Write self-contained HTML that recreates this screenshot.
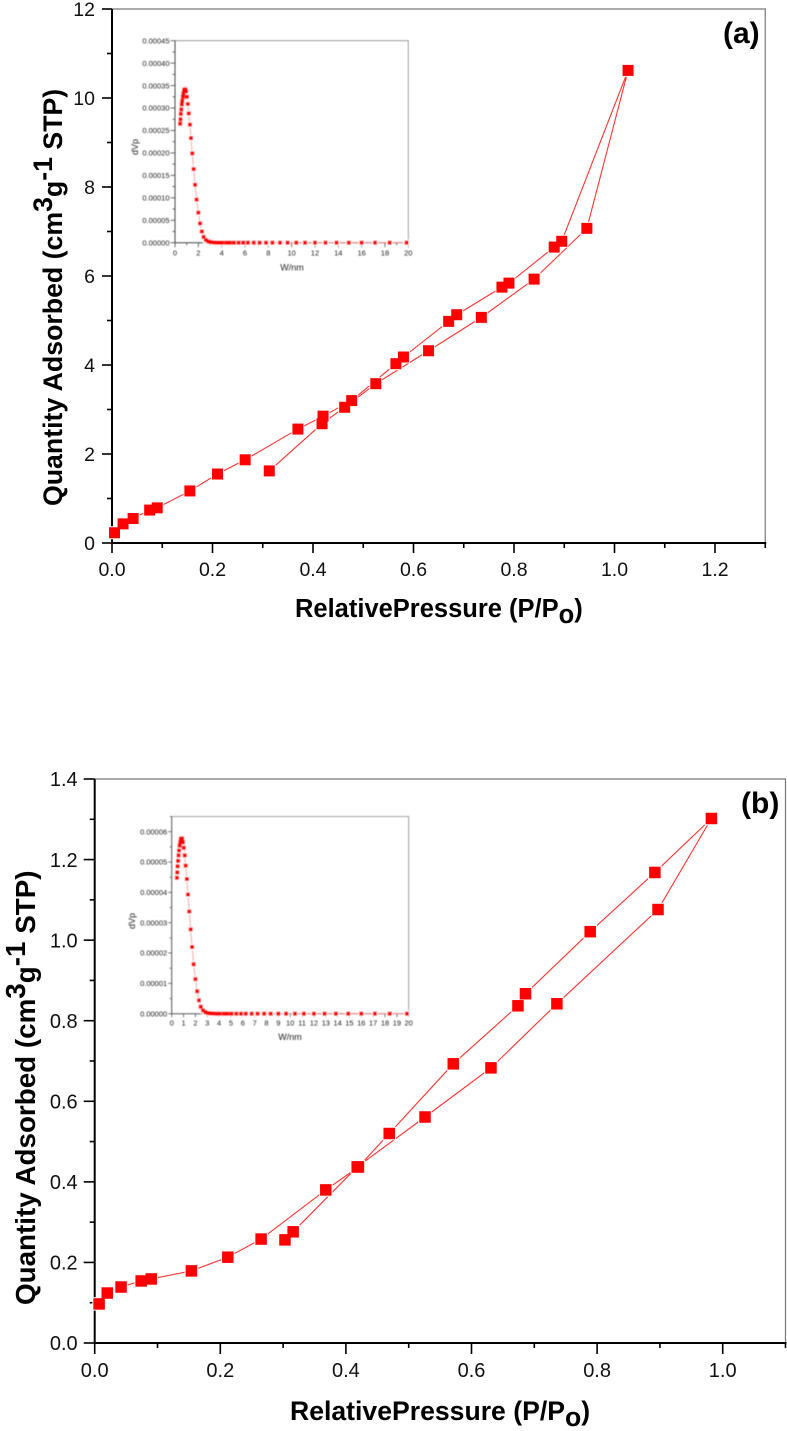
<!DOCTYPE html>
<html>
<head>
<meta charset="utf-8">
<title>Nitrogen adsorption isotherms</title>
<style>
html,body{margin:0;padding:0;background:#fff;}
svg{display:block;font-family:"Liberation Sans",Arial,sans-serif;}
</style>
</head>
<body>
<svg id="chart" width="787" height="1431" viewBox="0 0 787 1431" xmlns="http://www.w3.org/2000/svg">
<defs><filter id="soft" x="-5%" y="-5%" width="110%" height="110%"><feGaussianBlur stdDeviation="0.4"/></filter></defs>
<rect width="787" height="1431" fill="#fff"/>
<g id="panelA"></g>
<g id="panelB"></g>
<text x="723" y="43" font-size="30" font-weight="bold">(a)</text>
<text x="741" y="813" font-size="30" font-weight="bold">(b)</text>
<text x="295" y="617" font-size="25.5" font-weight="bold" xml:space="preserve">RelativePressure (P/P<tspan dy="6">o</tspan><tspan dy="-6">)</tspan></text>
<text x="290" y="1420" font-size="26.6" font-weight="bold" xml:space="preserve">RelativePressure (P/P<tspan dy="6">o</tspan><tspan dy="-6">)</tspan></text>
<text transform="translate(62,506) rotate(-90)" font-size="26.7" font-weight="bold" xml:space="preserve">Quantity Adsorbed (cm<tspan dy="-10">3</tspan><tspan dy="10">g</tspan><tspan dy="-10">-1</tspan><tspan dy="10"> STP)</tspan></text>
<text transform="translate(35,1305) rotate(-90)" font-size="27.8" font-weight="bold" xml:space="preserve">Quantity Adsorbed (cm<tspan dy="-10">3</tspan><tspan dy="10">g</tspan><tspan dy="-10">-1</tspan><tspan dy="10"> STP)</tspan></text>
</svg>
<script>
// Main isotherm, panel (a)
var isothermAPressure = [0.005,0.022,0.042,0.075,0.09,0.155,0.21,0.265,0.37,0.42,0.477,0.565,0.58,0.67,0.686,0.776,0.79,0.88,0.895,1.027,0.945,0.84,0.735,0.63,0.525,0.463,0.418,0.313];
var isothermAQuantity = [0.23,0.43,0.55,0.74,0.79,1.17,1.55,1.87,2.56,2.85,3.2,4.03,4.18,4.98,5.13,5.75,5.84,6.65,6.78,10.62,7.07,5.93,5.07,4.32,3.58,3.05,2.68,1.62];
// Main isotherm, panel (b)
var isothermBPressure = [0.007,0.02,0.042,0.074,0.09,0.154,0.212,0.265,0.368,0.42,0.469,0.571,0.674,0.686,0.789,0.892,0.982,0.897,0.736,0.631,0.526,0.418,0.316,0.303];
var isothermBQuantity = [0.097,0.124,0.139,0.154,0.159,0.179,0.213,0.258,0.38,0.437,0.52,0.693,0.837,0.867,1.021,1.168,1.302,1.076,0.842,0.683,0.561,0.437,0.276,0.256];
// Inset pore size distributions
var poreWidths = [0.44,0.47,0.5,0.54,0.58,0.62,0.67,0.72,0.77,0.82,0.88,0.95,1.02,1.1,1.18,1.28,1.37,1.48,1.6,1.72,1.85,2.0,2.15,2.3,2.45,2.65,2.85,3.05,3.3,3.5,3.8,4.05,4.4,4.7,5.05,5.45,5.85,6.25,6.75,7.25,7.8,8.35,9,9.65,10.4,11.15,12,12.9,13.85,14.9,16,17.15,18.4,19.85];
var insetADvp = [26.5,27.5,28.7,29.7,30.8,31.6,32.5,33.3,33.9,34.15,34.15,33.7,32.5,30.9,28.8,26.3,23.3,19.9,16.4,12.9,9.6,6.7,4.3,2.5,1.3,0.6,0.3,0.12,0.05,0.02,0.01,0,0,0,0,0,0,0,0,0,0,0,0,0,0,0,0,0,0,0,0,0,0,0];
var insetBDvp = [4.48,4.66,4.86,5.04,5.22,5.38,5.54,5.66,5.75,5.78,5.77,5.65,5.47,5.22,4.88,4.44,3.93,3.37,2.78,2.2,1.63,1.14,0.74,0.44,0.23,0.11,0.05,0.02,0.01,0.005,0,0,0,0,0,0,0,0,0,0,0,0,0,0,0,0,0,0,0,0,0,0,0,0];
// Tick labels
var mainAXTicks = ["0.0","0.2","0.4","0.6","0.8","1.0","1.2"];
var mainAYTicks = ["0","2","4","6","8","10","12"];
var mainBXTicks = ["0.0","0.2","0.4","0.6","0.8","1.0"];
var mainBYTicks = ["0.0","0.2","0.4","0.6","0.8","1.0","1.2","1.4"];
var insetAXTicks = ["0","2","4","6","8","10","12","14","16","18","20"];
var insetAYTicks = ["0.00000","0.00005","0.00010","0.00015","0.00020","0.00025","0.00030","0.00035","0.00040","0.00045"];
var insetBXTicks = ["0","1","2","3","4","5","6","7","8","9","10","11","12","13","14","15","16","17","18","19","20"];
var insetBYTicks = ["0.00000","0.00001","0.00002","0.00003","0.00004","0.00005","0.00006"];

var NS = "http://www.w3.org/2000/svg";
function shape(parent, tag, attrs) {
  var el = document.createElementNS(NS, tag);
  for (var k in attrs) el.setAttribute(k, attrs[k]);
  parent.appendChild(el);
  return el;
}
function linear(d0, d1, r0, r1) {
  return function (v) { return r0 + (v - d0) * (r1 - r0) / (d1 - d0); };
}
function drawAxes(parent, o, prefix) {
  var sx = o.sx, sy = o.sy, left = sx(o.xMin), right = sx(o.xMax), bottom = sy(o.yMin), top = sy(o.yMax);
  var frame = shape(parent, "path", {d: "M" + left + " " + top + "H" + right + "V" + bottom, fill: "none", stroke: o.frameColor, "stroke-width": o.frameWidth});
  
  
  var xAxis = shape(parent, "line", {x1: left - o.axisWidth / 2, x2: right + o.axisWidth / 2, y1: bottom, y2: bottom, stroke: o.axisColor, "stroke-width": o.axisWidth});
  
  
  var yAxis = shape(parent, "line", {x1: left, x2: left, y1: top, y2: bottom, stroke: o.axisColor, "stroke-width": o.axisWidth});
  
  
  var i, v, t, lab;
  for (i = 0; (v = o.xMin + i * o.xMinor) <= o.xMax + 1e-9; i++) {
    var major = i % o.xEvery === 0;
    t = shape(parent, "line", {x1: sx(v), x2: sx(v), y1: bottom, y2: bottom + (major ? o.major : o.minor), stroke: o.axisColor, "stroke-width": o.tickWidth});
    
    
  }
  for (i = 0; (v = o.yMin + i * o.yMinor) <= o.yMax + 1e-9; i++) {
    var majorY = i % o.yEvery === 0;
    t = shape(parent, "line", {x1: left - (majorY ? o.major : o.minor), x2: left, y1: sy(v), y2: sy(v), stroke: o.axisColor, "stroke-width": o.tickWidth});
    
    
  }
  o.xLabels.forEach(function (s) {
    lab = shape(parent, "text", {x: sx(parseFloat(s)), y: bottom + o.xLabelGap, "font-size": o.font, "text-anchor": "middle", fill: o.textColor});
    lab.textContent = s;
    
    
  });
  o.yLabels.forEach(function (s) {
    lab = shape(parent, "text", {x: left - o.major - o.yLabelGap, y: sy(parseFloat(s) * o.yLabelScale) + o.font * 0.36, "font-size": o.font, "text-anchor": "end", fill: o.textColor});
    lab.textContent = s;
    
    
  });
}
function drawSeries(parent, xs, ys, sx, sy, lineColor, lineWidth, size, prefix) {
  var pts = xs.map(function (x, i) { return sx(x).toFixed(2) + "," + sy(ys[i]).toFixed(2); }).join(" ");
  var line = shape(parent, "polyline", {points: pts, fill: "none", stroke: lineColor, "stroke-width": lineWidth});
  
  
  xs.forEach(function (x, i) {
    var halo = shape(parent, "rect", {x: sx(x) - size / 2 - 1, y: sy(ys[i]) - size / 2 - 1, width: size + 2, height: size + 2, fill: "#fff"});
    
    
  });
  xs.forEach(function (x, i) {
    var m = shape(parent, "rect", {x: sx(x) - size / 2, y: sy(ys[i]) - size / 2, width: size, height: size, fill: "#ff0000"});
    
    
  });
}
function drawInset(parent, o, prefix, xs, ys, xTitlePos, yTitlePos) {
  var g = shape(parent, "g", {filter: "url(#soft)"});
  
  
  drawAxes(g, o, prefix);
  drawSeries(g, xs, ys, o.sx, o.sy, "#ff9090", 0.8, 4, prefix);
  var xt = shape(g, "text", {x: xTitlePos[0], y: xTitlePos[1], "font-size": 9, "text-anchor": "middle", fill: "#222"});
  xt.textContent = "W/nm";
  
  
  var yt = shape(g, "text", {transform: "translate(" + yTitlePos[0] + "," + yTitlePos[1] + ") rotate(-90)", "font-size": 9, "text-anchor": "middle", fill: "#222"});
  yt.textContent = "dVp";
  
  
}

var gA = document.getElementById("panelA"), gB = document.getElementById("panelB");

// Panel (a)
var axA = {sx: linear(0, 1.2, 112, 715), sy: linear(0, 12, 543, 9), xMin: 0, xMax: 1.3, yMin: 0, yMax: 12,
  xMinor: 0.1, xEvery: 2, yMinor: 1, yEvery: 2, major: 10, minor: 5, font: 19.5, textColor: "#111",
  axisColor: "#000", axisWidth: 2, tickWidth: 1.6, frameColor: "#777", frameWidth: 1.2,
  xLabels: mainAXTicks, yLabels: mainAYTicks, xLabelGap: 33, yLabelGap: 7, yLabelScale: 1};
drawAxes(gA, axA, "panel-a");
drawSeries(gA, isothermAPressure, isothermAQuantity, axA.sx, axA.sy, "#ff3333", 1.1, 11, "isotherm-a");
drawInset(gA, {sx: linear(0, 20, 175, 408.3), sy: linear(0, 45, 242.7, 40.7), xMin: 0, xMax: 20, yMin: 0, yMax: 45,
  xMinor: 1, xEvery: 2, yMinor: 2.5, yEvery: 2, major: 4.5, minor: 2.5, font: 7.5, textColor: "#222",
  axisColor: "#444", axisWidth: 1, tickWidth: 0.8, frameColor: "#888", frameWidth: 0.8,
  xLabels: insetAXTicks, yLabels: insetAYTicks, xLabelGap: 13, yLabelGap: 1, yLabelScale: 100000},
  "inset-a", poreWidths, insetADvp, [292, 270.5], [138, 147]);

// Panel (b)
var axB = {sx: linear(0, 1, 94.7, 722.7), sy: linear(0, 1.4, 1343, 779), xMin: 0, xMax: 1.1, yMin: 0, yMax: 1.4,
  xMinor: 0.1, xEvery: 2, yMinor: 0.1, yEvery: 2, major: 11, minor: 5, font: 20, textColor: "#111",
  axisColor: "#000", axisWidth: 2, tickWidth: 1.6, frameColor: "#777", frameWidth: 1.2,
  xLabels: mainBXTicks, yLabels: mainBYTicks, xLabelGap: 34, yLabelGap: 6, yLabelScale: 1};
drawAxes(gB, axB, "panel-b");
drawSeries(gB, isothermBPressure, isothermBQuantity, axB.sx, axB.sy, "#ff3333", 1.1, 11.5, "isotherm-b");
drawInset(gB, {sx: linear(0, 20, 171.7, 408.7), sy: linear(0, 6, 1013.7, 831.7), xMin: 0, xMax: 20, yMin: 0, yMax: 6.5,
  xMinor: 1, xEvery: 1, yMinor: 0.5, yEvery: 2, major: 3.5, minor: 2, font: 7.5, textColor: "#222",
  axisColor: "#555", axisWidth: 1, tickWidth: 0.8, frameColor: "#888", frameWidth: 0.8,
  xLabels: insetBXTicks, yLabels: insetBYTicks, xLabelGap: 12, yLabelGap: 1, yLabelScale: 100000},
  "inset-b", poreWidths, insetBDvp, [290, 1040], [135, 921]);
</script>
</body>
</html>
